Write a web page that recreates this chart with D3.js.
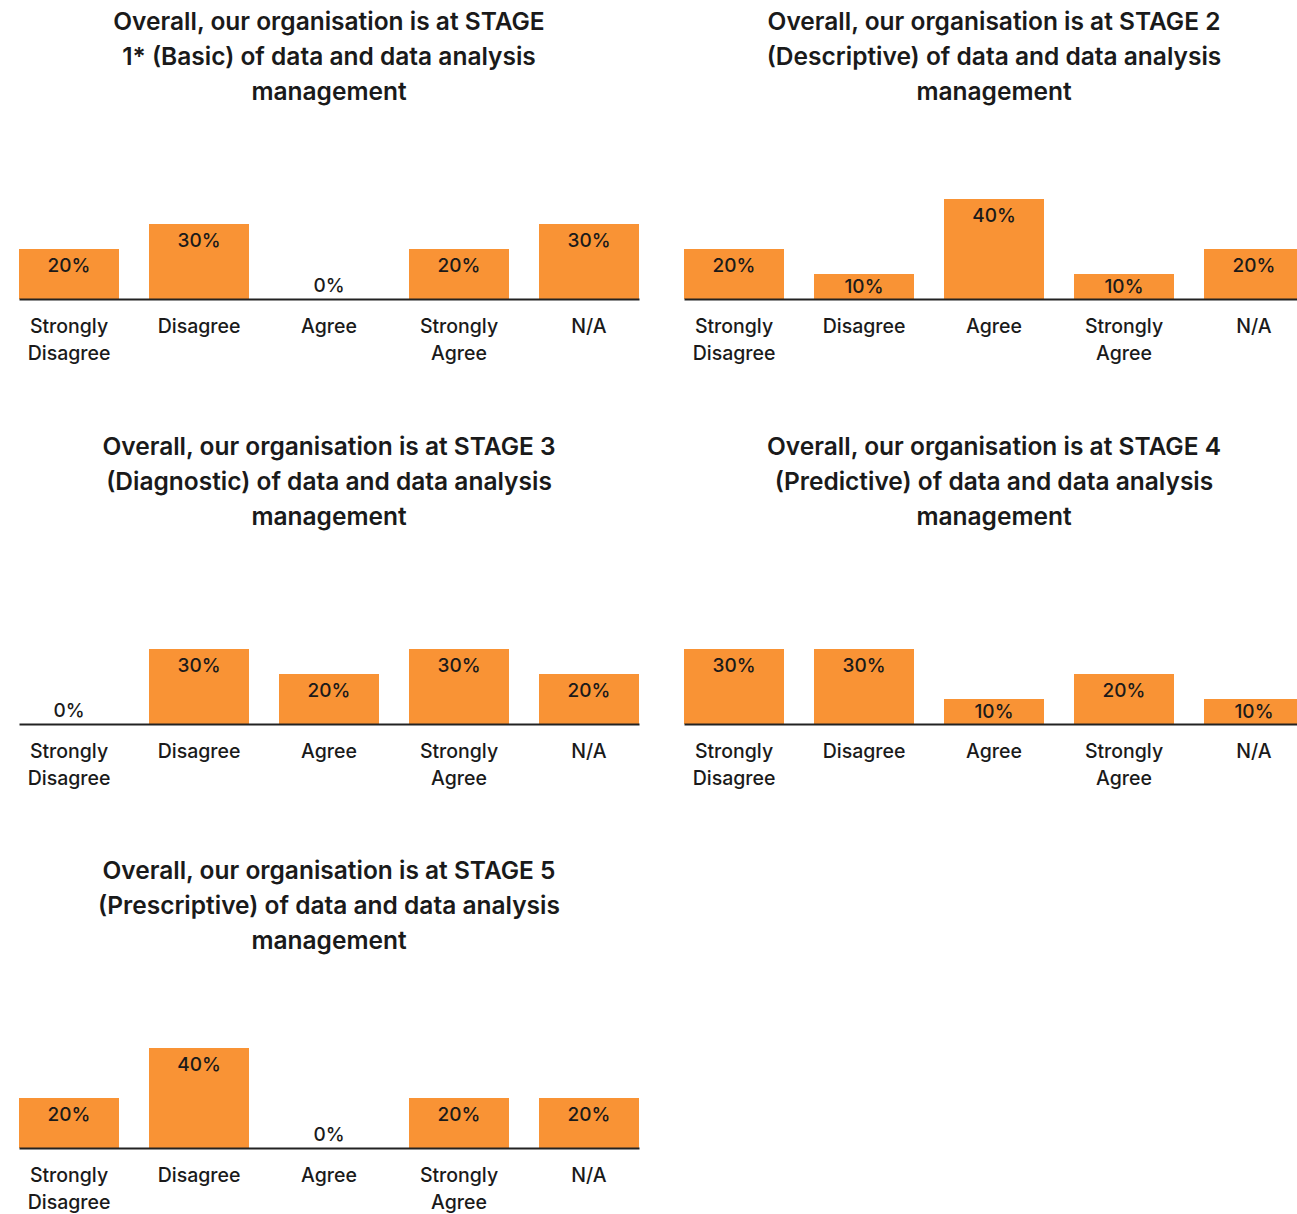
<!DOCTYPE html>
<html>
<head>
<meta charset="utf-8">
<script src="https://cdn.jsdelivr.net/npm/d3@7"></script>
<style>
  html, body { margin: 0; padding: 0; background: #fff; }
  svg { display: block; }
  text { font-family: "Inter", "Open Sans", sans-serif; fill: #1a1a1a; }
</style>
</head>
<body>
<svg id="chart" width="1297" height="1214"></svg>
<script>
// ---- Data ----
const categories = ["Strongly Disagree", "Disagree", "Agree", "Strongly Agree", "N/A"];
const categoryLines = [["Strongly", "Disagree"], ["Disagree"], ["Agree"], ["Strongly", "Agree"], ["N/A"]];

const titleStage1 = ["Overall, our organisation is at STAGE", "1* (Basic) of data and data analysis", "management"];
const titleStage2 = ["Overall, our organisation is at STAGE 2", "(Descriptive) of data and data analysis", "management"];
const titleStage3 = ["Overall, our organisation is at STAGE 3", "(Diagnostic) of data and data analysis", "management"];
const titleStage4 = ["Overall, our organisation is at STAGE 4", "(Predictive) of data and data analysis", "management"];
const titleStage5 = ["Overall, our organisation is at STAGE 5", "(Prescriptive) of data and data analysis", "management"];

const valuesStage1 = [20, 30, 0, 20, 30];
const valuesStage2 = [20, 10, 40, 10, 20];
const valuesStage3 = [0, 30, 20, 30, 20];
const valuesStage4 = [30, 30, 10, 20, 10];
const valuesStage5 = [20, 40, 0, 20, 20];

// ---- Layout ----
const svg = d3.select("#chart");
const panelWidth = 620;
const panels = [
  { title: titleStage1, values: valuesStage1, x0: 19,  base: 299 },
  { title: titleStage2, values: valuesStage2, x0: 684, base: 299 },
  { title: titleStage3, values: valuesStage3, x0: 19,  base: 724 },
  { title: titleStage4, values: valuesStage4, x0: 684, base: 724 },
  { title: titleStage5, values: valuesStage5, x0: 19,  base: 1148 }
];

const barColor = "#F99335";

panels.forEach(p => {
  const g = svg.append("g");
  const x = d3.scaleBand().domain(categories)
    .range([p.x0, p.x0 + panelWidth])
    .paddingInner(30 / 130).paddingOuter(0);
  const y = d3.scaleLinear().domain([0, 100]).range([p.base, p.base - 250]);

  // title
  const cx = p.x0 + panelWidth / 2;
  const title = g.append("text")
    .attr("text-anchor", "middle")
    .style("font-size", "24.5px")
    .style("font-weight", "600");
  p.title.forEach((line, i) => {
    title.append("tspan").attr("x", cx)
      .attr("y", p.base - 278 + i * 35)
      .attr("dy", "0.35em")
      .text(line);
  });

  // bars
  const data = categories.map((c, i) => ({ c, v: p.values[i] }));
  g.selectAll("rect").data(data).join("rect")
    .attr("x", d => x(d.c))
    .attr("width", x.bandwidth())
    .attr("y", d => y(d.v))
    .attr("height", d => y(0) - y(d.v))
    .attr("fill", barColor);

  // value labels
  g.selectAll("text.val").data(data).join("text")
    .attr("class", "val")
    .attr("text-anchor", "middle")
    .attr("x", d => x(d.c) + x.bandwidth() / 2)
    .attr("y", d => {
      const top = y(d.v), bottom = y(0);
      if (d.v === 0) return bottom - 14;
      return Math.min(top + 16, (top + bottom) / 2);
    })
    .attr("dy", "0.35em")
    .style("font-size", "19px")
    .style("font-weight", "500")
    .text(d => d.v + "%");

  // axis
  const axis = g.append("g")
    .attr("transform", `translate(0,${p.base})`)
    .call(d3.axisBottom(x).tickSize(0).tickSizeOuter(0).tickPadding(0));
  axis.select(".domain").attr("stroke", "#222").attr("stroke-width", 2);
  axis.selectAll(".tick text").each(function(d) {
    const t = d3.select(this);
    t.text(null).attr("y", 0).attr("dy", null)
      .style("font-size", "19.5px")
      .style("font-weight", "500")
      .attr("fill", "#1a1a1a");
    const lines = categoryLines[categories.indexOf(d)];
    lines.forEach((ln, i) => {
      t.append("tspan").attr("x", 0).attr("y", 27 + i * 27).attr("dy", "0.35em").text(ln);
    });
  });
  axis.attr("font-family", null).attr("font-size", null);
});
</script>
</body>
</html>
